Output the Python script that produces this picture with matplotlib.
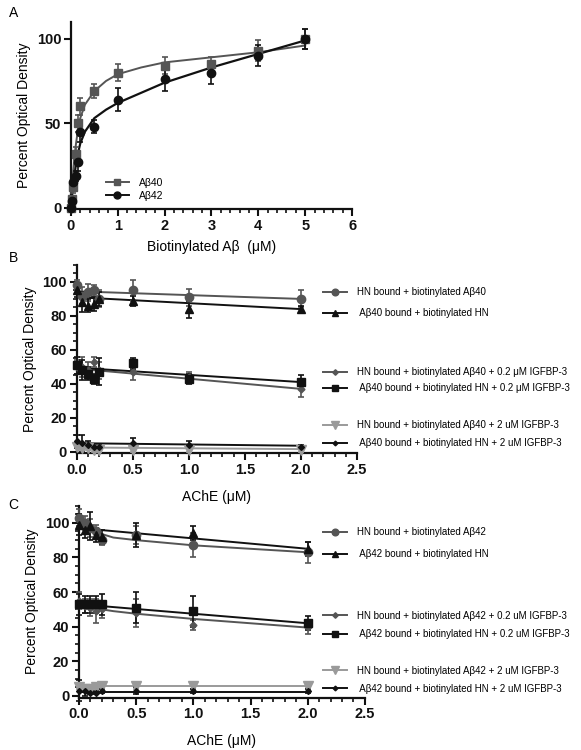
import matplotlib.pyplot as plt
from matplotlib.lines import Line2D
from matplotlib.ticker import MultipleLocator

plt.rcParams['font.family'] = ['Liberation Sans', 'DejaVu Sans']

MID = '#555555'
LIGHT = '#9a9a9a'
BLACK = '#111111'

# ---- panel A: saturation binding ----
a_x = [0, 0.02, 0.05, 0.1, 0.15, 0.2, 0.5, 1, 2, 3, 4, 5]
a40_y = [0, 5, 12, 32, 50, 60, 69, 80, 84, 85, 93, 100]
a40_err = [1, 2, 3, 4, 5, 5, 4, 5, 5, 4, 6, 6]
a42_y = [0, 4, 15, 19, 27, 45, 48, 64, 76, 80, 90, 100]
a42_err = [1, 2, 3, 3, 5, 6, 4, 7, 7, 7, 6, 6]

# fitted curves
a_fit_x = [0, 0.025, 0.05, 0.1, 0.15, 0.2, 0.3, 0.5, 0.75, 1, 1.5, 2, 3, 4, 5]
a40_fit = [0, 12, 22, 36, 46, 53, 61, 69, 75, 79, 83, 86, 89, 92, 96]
a42_fit = [0, 7, 13, 24, 32, 38, 45, 53, 58, 62, 68, 74, 83, 91, 99]

# ---- panels B / C: AChE competition ----
ache_x = [0, 0.05, 0.1, 0.15, 0.2, 0.5, 1, 2]

b_hn = [98, 92, 94, 95, 90, 95, 91, 90]
b_hn_err = [3, 5, 5, 3, 5, 6, 5, 5]
b_ab = [95, 88, 86, 87, 90, 89, 84, 84]
b_ab_err = [4, 6, 4, 4, 4, 3, 5, 2]
b_hn02 = [50, 50, 48, 53, 48, 47, 44, 37]
b_hn02_err = [4, 6, 5, 3, 5, 5, 3, 5]
b_ab02 = [51, 48, 46, 43, 47, 52, 43, 41]
b_ab02_err = [5, 6, 4, 3, 8, 3, 3, 4]
b_hn2 = [3, 2, 2, 1, 1, 1, 1, 1]
b_hn2_err = [1, 1, 1, 1, 1, 1, 1, 1]
b_ab2 = [6, 5, 4, 3, 3, 5, 4, 3]
b_ab2_err = [4, 5, 2, 1, 1, 3, 2, 1]

b_line_x = [0, 2]
b_hn_line = [94.5, 90]
b_ab_line = [91, 84]
b_hn02_line = [49, 37]
b_ab02_line = [49.5, 41]
b_hn2_line = [2.5, 1.5]
b_ab2_line = [5, 3.5]

c_hn = [103, 100, 97, 95, 90, 93, 87, 83]
c_hn_err = [5, 4, 5, 4, 3, 5, 7, 6]
c_ab = [99, 96, 98, 93, 92, 93, 94, 85]
c_ab_err = [6, 5, 8, 4, 4, 7, 4, 4]
c_hn02 = [55, 52, 51, 49, 50, 48, 41, 40]
c_hn02_err = [5, 4, 5, 7, 5, 8, 3, 4]
c_ab02 = [53, 53, 53, 53, 53, 51, 49, 42]
c_ab02_err = [6, 5, 5, 5, 6, 9, 9, 4]
c_hn2 = [5, 4, 4, 5, 6, 6, 6, 6]
c_hn2_err = [1, 1, 1, 1, 1, 2, 2, 1]
c_ab2 = [3, 3, 2, 2, 3, 3, 3, 3]
c_ab2_err = [6, 3, 1, 1, 1, 2, 1, 1]

c_curve_x = [0, 0.05, 0.1, 0.15, 0.2, 0.3, 0.5, 1, 1.5, 2]
c_hn_curve = [104, 101, 98, 95.5, 93.5, 91.5, 90, 87, 85, 83]
c_hn02_curve = [54.5, 53, 52, 51, 50, 49, 47.5, 44.5, 42, 39.5]
c_line_x = [0, 2]
c_ab_line = [97, 85]
c_ab02_line = [53, 42]
c_hn2_line = [5.5, 5.5]
c_ab2_line = [2.5, 2.5]

b_labels = [
    'HN bound + biotinylated Aβ40',
    ' Aβ40 bound + biotinylated HN',
    'HN bound + biotinylated Aβ40 + 0.2 μM IGFBP-3',
    ' Aβ40 bound + biotinylated HN + 0.2 μM IGFBP-3',
    'HN bound + biotinylated Aβ40 + 2 uM IGFBP-3',
    ' Aβ40 bound + biotinylated HN + 2 uM IGFBP-3',
]
c_labels = [
    'HN bound + biotinylated Aβ42',
    ' Aβ42 bound + biotinylated HN',
    'HN bound + biotinylated Aβ42 + 0.2 uM IGFBP-3',
    ' Aβ42 bound + biotinylated HN + 0.2 uM IGFBP-3',
    'HN bound + biotinylated Aβ42 + 2 uM IGFBP-3',
    ' Aβ42 bound + biotinylated HN + 2 uM IGFBP-3',
]

# (colour, marker, markersize) for the six competition series
styles = [
    (MID, 'o', 6),
    (BLACK, '^', 6),
    (MID, 'D', 3.5),
    (BLACK, 's', 5.5),
    (LIGHT, 'v', 7),
    (BLACK, 'D', 3),
]


def style_axes(ax):
    for side in ('top', 'right'):
        ax.spines[side].set_visible(False)
    for side in ('left', 'bottom'):
        ax.spines[side].set_linewidth(1.6)
        ax.spines[side].set_color(BLACK)
    ax.tick_params(which='major', direction='out', length=5, width=1.5,
                   labelsize=10.5, pad=2, colors=BLACK)
    ax.tick_params(which='minor', direction='out', length=3, width=1.2,
                   colors=BLACK)
    plt.setp(ax.get_xticklabels(), fontweight='bold')
    plt.setp(ax.get_yticklabels(), fontweight='bold')


def points(ax, x, y, err, color, marker, ms):
    ax.errorbar(x, y, yerr=err, fmt=marker, color=color, ms=ms,
                ecolor=color, elinewidth=1.2, capsize=2.5, capthick=1.2,
                clip_on=False, zorder=3)


def handle(color, marker, ms):
    return Line2D([], [], color=color, marker=marker, ms=ms, lw=1.4)


fig = plt.figure(figsize=(5.81, 7.5), dpi=100)

# ---------------- A ----------------
axA = fig.add_axes([0.122, 0.7208, 0.484, 0.2501])
axA.plot(a_fit_x, a40_fit, color=MID, lw=1.4, zorder=2)
axA.plot(a_fit_x, a42_fit, color=BLACK, lw=1.6, zorder=2)
points(axA, a_x, a40_y, a40_err, MID, 's', 6)
points(axA, a_x, a42_y, a42_err, BLACK, 'o', 6)
axA.set_xlim(0, 6)
axA.set_ylim(-1, 110)
axA.set_xticks(range(0, 7))
axA.set_yticks([0, 50, 100])
axA.xaxis.set_minor_locator(MultipleLocator(0.2))
style_axes(axA)
axA.set_xlabel('Biotinylated Aβ  (μM)', fontsize=10, labelpad=5)
axA.set_ylabel('Percent Optical Density', fontsize=10, labelpad=4)
axA.legend([handle(MID, 's', 5), handle(BLACK, 'o', 5)], ['Aβ40', 'Aβ42'],
           loc='center left', bbox_to_anchor=(0.182, 0.7476),
           bbox_transform=fig.transFigure, frameon=False, fontsize=7.5,
           handlelength=2.2, handletextpad=1.0, labelspacing=0.25,
           borderpad=0, borderaxespad=0)
fig.text(0.015, 0.983, 'A', fontsize=10, va='center', ha='left')


def competition(ax, curves, series, labels, legend_y, spacings):
    for (cx, cy), (color, _, _) in zip(curves, styles):
        ax.plot(cx, cy, color=color, lw=1.4, zorder=2)
    for (y, err), (color, marker, ms) in zip(series, styles):
        points(ax, ache_x, y, err, color, marker, ms)
    ax.set_xlim(0, 2.5)
    ax.set_ylim(-1, 110)
    ax.set_xticks([0, 0.5, 1.0, 1.5, 2.0, 2.5])
    ax.set_xticklabels(['0.0', '0.5', '1.0', '1.5', '2.0', '2.5'])
    ax.set_yticks([0, 20, 40, 60, 80, 100])
    ax.xaxis.set_minor_locator(MultipleLocator(0.1))
    ax.yaxis.set_minor_locator(MultipleLocator(5))
    style_axes(ax)
    ax.set_xlabel('AChE (μM)', fontsize=10, labelpad=9)
    ax.set_ylabel('Percent Optical Density', fontsize=10, labelpad=4)
    # three two-row legends; the last one stays as the axes' own legend
    for g in range(3):
        hs = [handle(c, m, ms * 0.8) for c, m, ms in styles[2 * g:2 * g + 2]]
        leg = ax.legend(hs, labels[2 * g:2 * g + 2], loc='center left',
                        bbox_to_anchor=(0.556, legend_y[g]),
                        bbox_transform=fig.transFigure, frameon=False,
                        fontsize=7.0, handlelength=2.5, handletextpad=1.0,
                        labelspacing=spacings[g], borderpad=0,
                        borderaxespad=0)
        if g < 2:
            ax.add_artist(leg)


# ---------------- B ----------------
axB = fig.add_axes([0.132, 0.3955, 0.4825, 0.2512])
competition(
    axB,
    [(b_line_x, b_hn_line), (b_line_x, b_ab_line), (b_line_x, b_hn02_line),
     (b_line_x, b_ab02_line), (b_line_x, b_hn2_line), (b_line_x, b_ab2_line)],
    [(b_hn, b_hn_err), (b_ab, b_ab_err), (b_hn02, b_hn02_err),
     (b_ab02, b_ab02_err), (b_hn2, b_hn2_err), (b_ab2, b_ab2_err)],
    b_labels, [0.5963, 0.4929, 0.4209], [1.1, 0.65, 0.85])
fig.text(0.015, 0.656, 'B', fontsize=10, va='center', ha='left')

# ---------------- C ----------------
axC = fig.add_axes([0.136, 0.0697, 0.492, 0.2563])
competition(
    axC,
    [(c_curve_x, c_hn_curve), (c_line_x, c_ab_line), (c_curve_x, c_hn02_curve),
     (c_line_x, c_ab02_line), (c_line_x, c_hn2_line), (c_line_x, c_ab2_line)],
    [(c_hn, c_hn_err), (c_ab, c_ab_err), (c_hn02, c_hn02_err),
     (c_ab02, c_ab02_err), (c_hn2, c_hn2_err), (c_ab2, c_ab2_err)],
    c_labels, [0.2756, 0.1667, 0.0937], [1.25, 0.85, 0.8])
fig.text(0.015, 0.327, 'C', fontsize=10, va='center', ha='left')

fig.savefig('out.png', dpi=100)
